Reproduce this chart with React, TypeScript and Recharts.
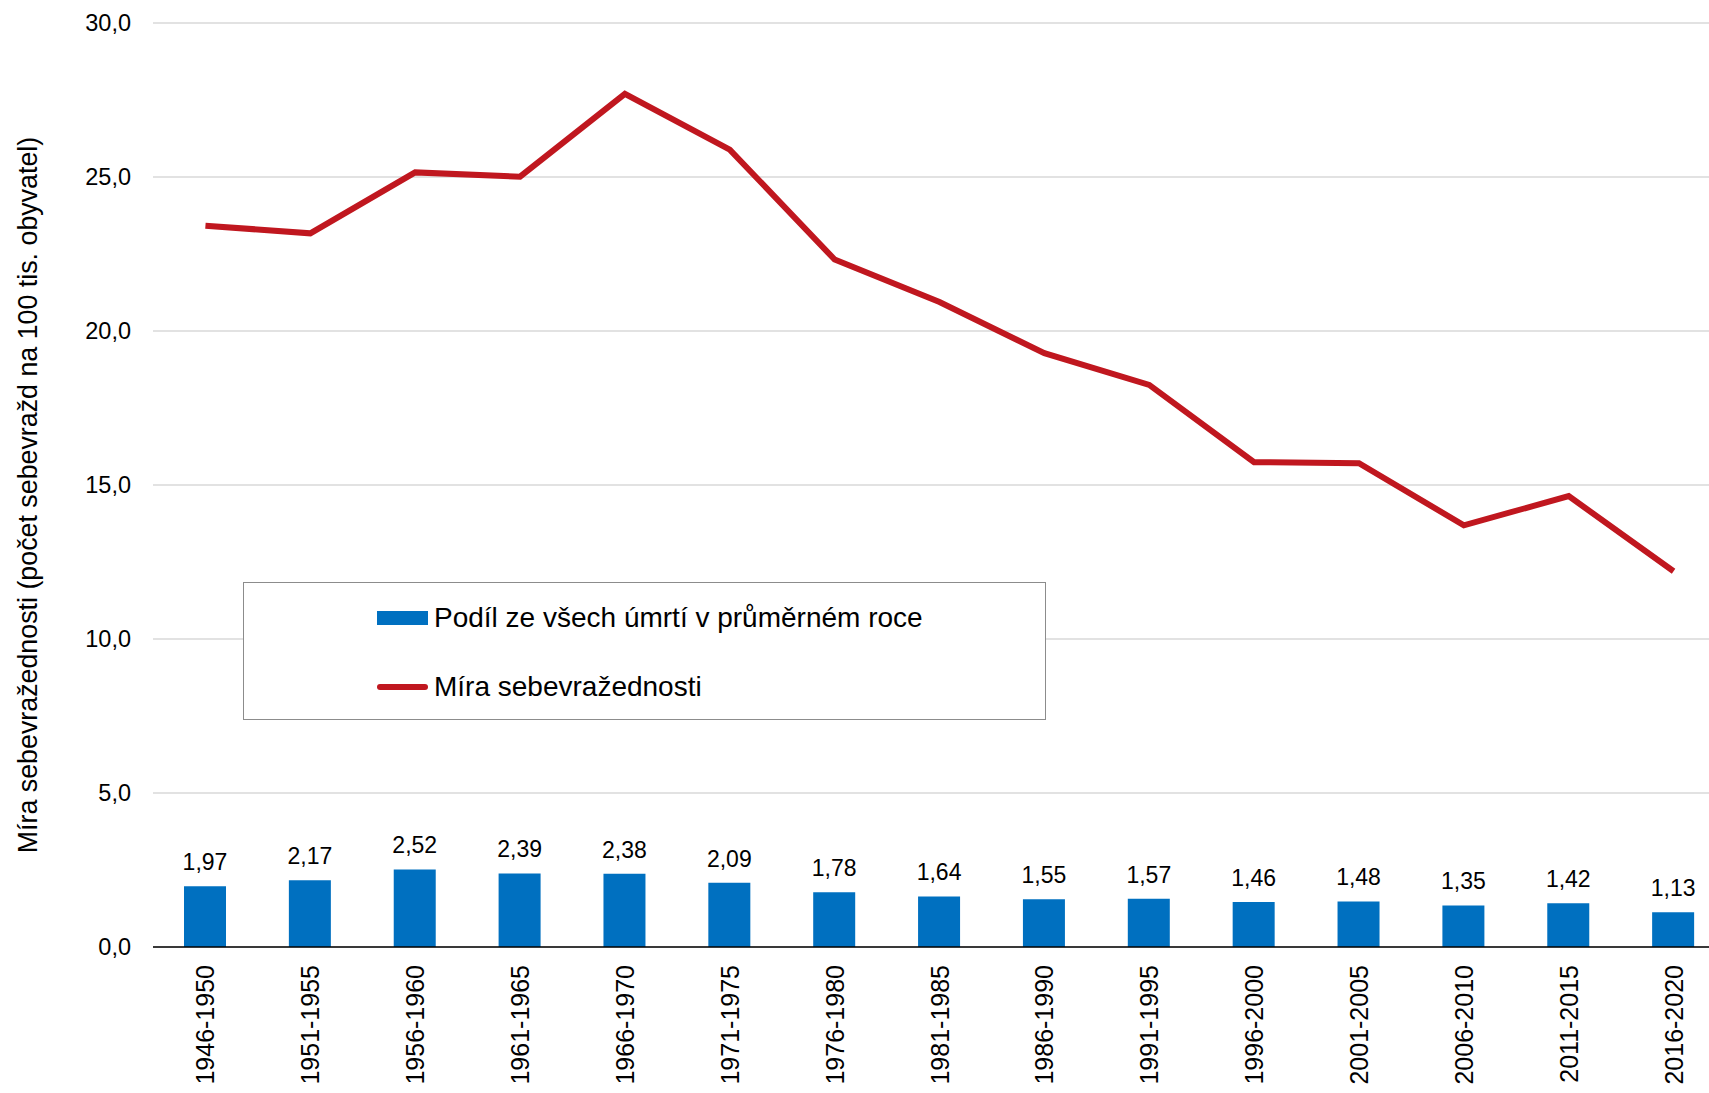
import React from 'react';
import { ComposedChart, Bar, Line, XAxis, YAxis, CartesianGrid, Legend, LabelList } from 'recharts';

const periods = ['1946-1950', '1951-1955', '1956-1960', '1961-1965', '1966-1970', '1971-1975', '1976-1980', '1981-1985', '1986-1990', '1991-1995', '1996-2000', '2001-2005', '2006-2010', '2011-2015', '2016-2020'];
const shareOfDeaths = [1.97, 2.17, 2.52, 2.39, 2.38, 2.09, 1.78, 1.64, 1.55, 1.57, 1.46, 1.48, 1.35, 1.42, 1.13];
const suicideRate = [23.42, 23.17, 25.15, 25.01, 27.7, 25.89, 22.32, 20.94, 19.28, 18.25, 15.74, 15.71, 13.69, 14.64, 12.2];
const yTicks = [0, 5, 10, 15, 20, 25, 30];

const barName = 'Podíl ze všech úmrtí v průměrném roce';
const lineName = 'Míra sebevražednosti';
const yTitle = 'Míra sebevražednosti (počet sebevražd na 100 tis. obyvatel)';

const data = periods.map((p, i) => ({ period: p, share: shareOfDeaths[i], rate: suicideRate[i] }));

const FONT = '"Liberation Sans", Arial, sans-serif';
const BLUE = '#0070C0';
const RED = '#C0171F';

const fmt = (v: number, d: number) => v.toFixed(d).replace('.', ',');

const XTick = (props: any) => {
  const { x, y, payload } = props;
  const ty = y + 10;
  return (
    <text
      x={x}
      y={ty}
      transform={`rotate(-90 ${x} ${ty})`}
      textAnchor="end"
      dy="0.36em"
      fontSize={25}
      fontFamily={FONT}
      fill="#000"
    >
      {payload.value}
    </text>
  );
};

const YTitle = (props: any) => {
  const { viewBox } = props;
  const cx = 27;
  const cy = viewBox.y + viewBox.height / 2 + 10;
  return (
    <text
      x={cx}
      y={cy}
      transform={`rotate(-90 ${cx} ${cy})`}
      textAnchor="middle"
      dy="0.36em"
      fontSize={26.8}
      fontFamily={FONT}
      fill="#000"
    >
      {yTitle}
    </text>
  );
};

const LegendBox = (props: any) => {
  const payload = [...(props.payload || [])].sort((a: any, b: any) => (a.type === 'rect' ? -1 : 1) - (b.type === 'rect' ? -1 : 1));
  return (
    <div
      style={{
        boxSizing: 'border-box',
        width: 803,
        height: 138,
        border: '1.5px solid #8c8c8c',
        background: '#fff',
        paddingLeft: 133,
        paddingTop: 17,
        fontFamily: FONT,
        fontSize: 28,
        color: '#000',
      }}
    >
      {payload.map((item: any, i: number) => (
        <div key={i} style={{ display: 'flex', alignItems: 'center', height: 35, marginBottom: i === 0 ? 34 : 0 }}>
          {item.type === 'rect' ? (
            <div style={{ width: 51, height: 14, background: BLUE, marginRight: 6 }} />
          ) : (
            <div style={{ width: 51, height: 6, background: RED, borderRadius: 3, marginRight: 6 }} />
          )}
          <span style={{ whiteSpace: 'nowrap' }}>{item.value}</span>
        </div>
      ))}
    </div>
  );
};

export default function App() {
  return (
    <div style={{ position: 'absolute', left: 0, top: 0, width: 1709, height: 1093, overflow: 'hidden', background: '#fff' }}>
      <ComposedChart
        width={1730}
        height={1093}
        data={data}
        margin={{ top: 23, right: 4, bottom: 0, left: 0 }}
        style={{ fontFamily: FONT }}
      >
        <CartesianGrid vertical={false} stroke="#d9d9d9" strokeWidth={1.5} />
        <XAxis
          dataKey="period"
          height={146}
          tick={<XTick />}
          tickLine={false}
          axisLine={{ stroke: '#000', strokeWidth: 1.5 }}
          interval={0}
        />
        <YAxis
          width={153}
          domain={[0, 30]}
          ticks={yTicks}
          tickFormatter={(v: number) => fmt(v, 1)}
          tick={{ fontSize: 23.5, fill: '#000', fontFamily: FONT }}
          tickLine={false}
          tickSize={0}
          tickMargin={22}
          axisLine={false}
          label={<YTitle />}
        />
        <Legend
          layout="horizontal"
          verticalAlign="middle"
          align="center"
          wrapperStyle={{ left: 243, top: 582, width: 803, height: 138 }}
          content={<LegendBox />}
        />
        <Bar dataKey="share" name={barName} fill={BLUE} barSize={42} isAnimationActive={false} legendType="rect">
          <LabelList
            dataKey="share"
            position="top"
            offset={16}
            formatter={(v: any) => fmt(Number(v), 2)}
            style={{ fontSize: 23, fill: '#000', fontFamily: FONT }}
          />
        </Bar>
        <Line
          dataKey="rate"
          name={lineName}
          stroke={RED}
          strokeWidth={6}
          dot={false}
          activeDot={false}
          isAnimationActive={false}
          legendType="line"
        />
      </ComposedChart>
    </div>
  );
}
